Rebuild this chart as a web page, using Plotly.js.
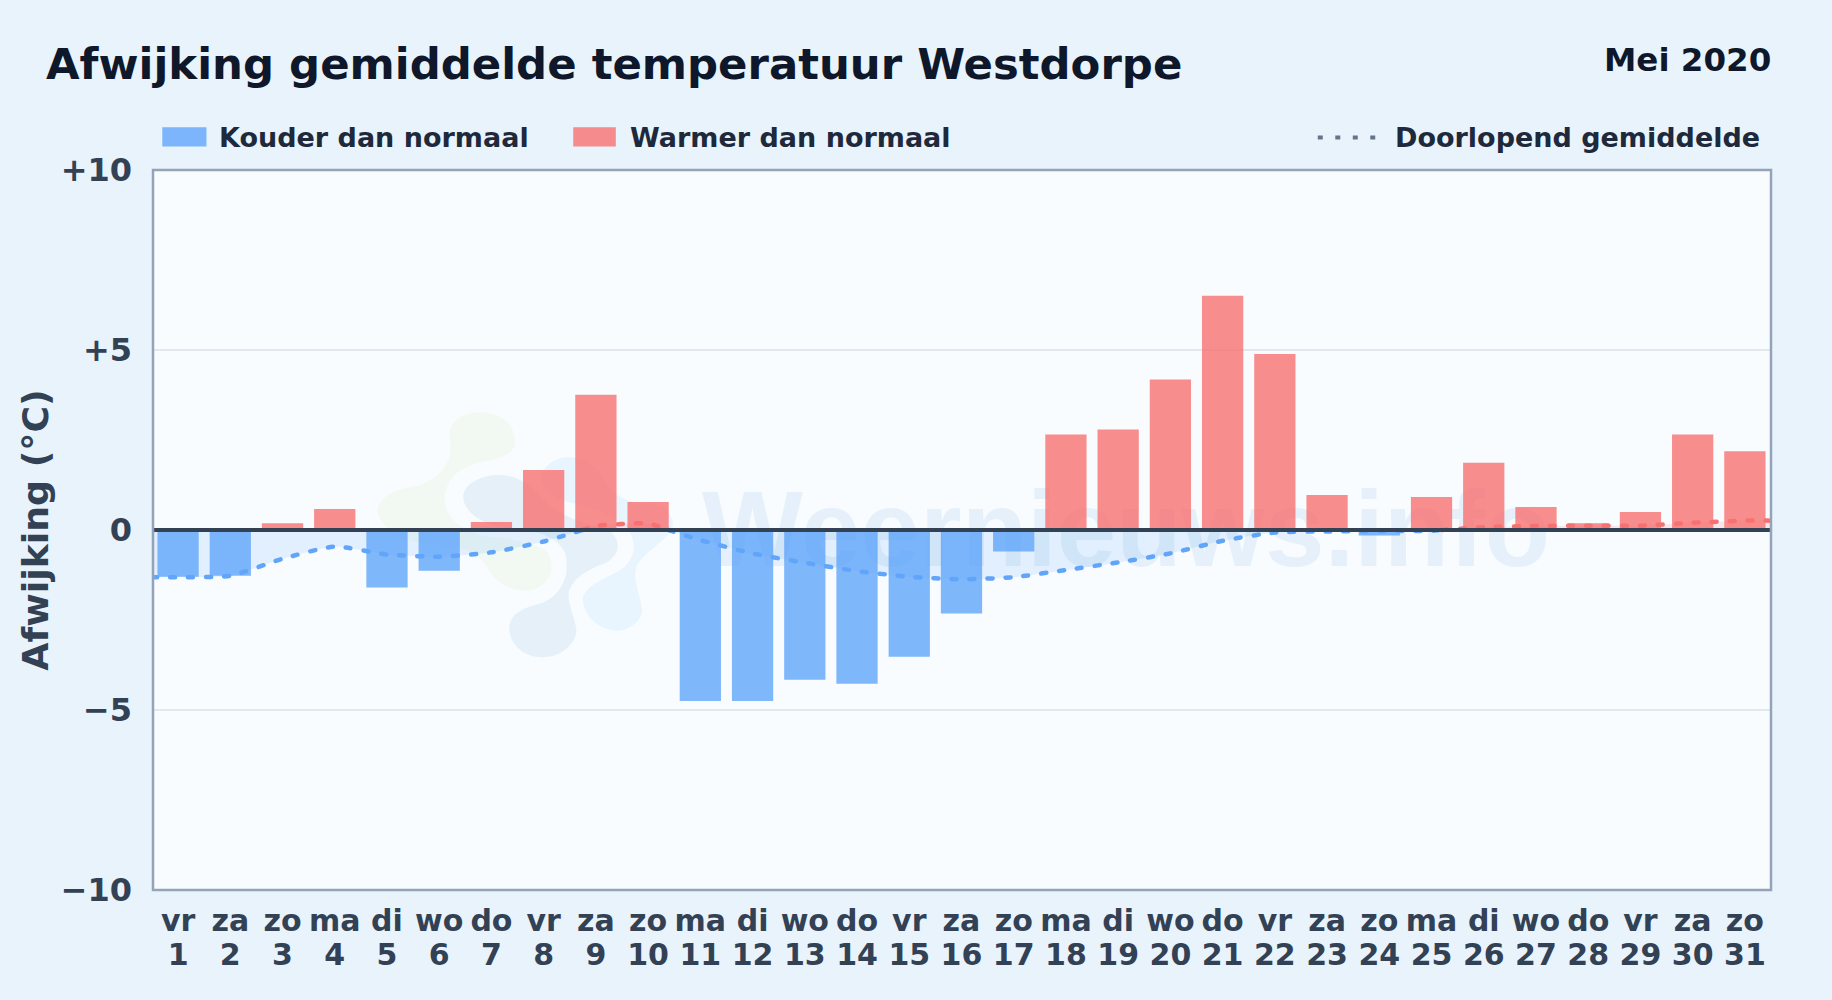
<!DOCTYPE html>
<html lang="nl">
<head>
<meta charset="utf-8">
<title>Afwijking gemiddelde temperatuur Westdorpe</title>
<script src="https://cdn.plot.ly/plotly-3.0.1.min.js"></script>
<style>html,body{margin:0;padding:0;background:#e8f3fc}#chart{width:1832px;height:1000px}
.scatterlayer .js-line{stroke-linecap:round !important}</style>
</head>
<body>
<div id="chart"></div>
<script>
const dayNames = ["vr","za","zo","ma","di","wo","do","vr","za","zo","ma","di","wo","do","vr","za","zo","ma","di","wo","do","vr","za","zo","ma","di","wo","do","vr","za","zo"];
const dayNumbers = [1,2,3,4,5,6,7,8,9,10,11,12,13,14,15,16,17,18,19,20,21,22,23,24,25,26,27,28,29,30,31];
const deviation = [-1.3,-1.27,0.19,0.58,-1.6,-1.13,0.22,1.67,3.76,0.78,-4.75,-4.75,-4.16,-4.27,-3.52,-2.32,-0.6,2.65,2.79,4.18,6.51,4.89,0.97,-0.15,0.92,1.87,0.64,0.19,0.5,2.65,2.19];
const meanDays = [0.5,1,2,3,4,5,6,7,8,9,10,11,12,13,14,15,16,17,18,19,20,21,22,23,24,25,26,27,28,29,30,31,31.5];
const runningMean = [-1.31,-1.31,-1.27,-0.8,-0.46,-0.68,-0.74,-0.62,-0.32,0.11,0.18,-0.28,-0.65,-0.91,-1.14,-1.3,-1.37,-1.31,-1.11,-0.9,-0.65,-0.3,-0.07,-0.04,-0.03,-0.02,0.08,0.11,0.12,0.12,0.2,0.26,0.26];
const yTickValues = [-10,-5,0,5,10];
const yTickLabels = ["\u221210","\u22125","0","+5","+10"];
const titleText = "Afwijking gemiddelde temperatuur Westdorpe";
const periodText = "Mei 2020";
const legendCold = "Kouder dan normaal";
const legendWarm = "Warmer dan normaal";
const legendMean = "Doorlopend gemiddelde";
const watermarkText = "Weernieuws.info";

const W = 1832, H = 1000;
const L = 152.5, R = 1771.5, T = 169.5, B = 890.5;
const FONT = '"DejaVu Sans", sans-serif';
const px = v => (v - L) / (R - L);
const py = v => (B - v) / (B - T);

// split the running mean where it crosses zero
const lx = [], ly = [];
meanDays.forEach((d, i) => {
  if (i > 0 && runningMean[i-1] * runningMean[i] < 0) {
    const a = runningMean[i-1], b = runningMean[i], p = meanDays[i-1];
    lx.push(p + (d - p) * (-a) / (b - a)); ly.push(0);
  }
  lx.push(d); ly.push(runningMean[i]);
});
const blueY = ly.map(v => v <= 0 ? v : null);
const redY = ly.map(v => v >= 0 ? v : null);

const cold = dayNumbers.map(d => deviation[d-1] < 0 ? deviation[d-1] : null);
const warm = dayNumbers.map(d => deviation[d-1] >= 0 ? deviation[d-1] : null);

const traces = [
  {type:"bar", name:legendCold, x:dayNumbers, y:cold, width:0.79, marker:{color:"rgba(96,165,250,0.8)"}, hoverinfo:"x+y"},
  {type:"bar", name:legendWarm, x:dayNumbers, y:warm, width:0.79, marker:{color:"rgba(248,113,113,0.8)"}, hoverinfo:"x+y"},
  {type:"scatter", mode:"lines", name:legendMean, x:lx, y:blueY, fill:"tozeroy", fillcolor:"rgba(96,165,250,0.15)",
   line:{color:"#60a5fa", width:4.5, dash:"5px,13px", shape:"spline", smoothing:0.6}},
  {type:"scatter", mode:"lines", name:legendMean+" (boven normaal)", x:lx, y:redY, fill:"tozeroy", fillcolor:"rgba(248,113,113,0.15)",
   line:{color:"#f87171", width:4.5, dash:"5px,13px", shape:"spline", smoothing:0.6}}
];

function blob(segs){ // path given in crop pixels, converted to paper fractions
  return segs.replace(/(-?[\d.]+),(-?[\d.]+)/g, (m,a,b) => {
    const X = 520 + (360 + a/3 - 520) * 1.04, Y = 535 + (390 + b/3 - 535) * 1.04;
    return px(X).toFixed(5) + "," + py(Y).toFixed(5);
  });
}
const blobGreen = "M 265,140 C 270,90 320,70 370,70 C 430,72 475,110 475,165 C 475,205 440,218 400,228 C 340,238 285,255 272,320 C 268,375 310,410 380,430 C 420,430 530,450 560,470 C 590,510 590,560 540,595 C 490,620 420,600 385,550 C 360,500 330,480 250,475 C 150,470 70,430 58,370 C 55,320 110,295 180,283 C 240,265 275,220 268,170 Z";
const blobGrey = "M 305,320 C 310,275 370,250 430,252 C 490,255 530,300 570,340 C 620,385 700,395 750,420 C 780,450 780,490 740,520 C 700,540 650,550 630,600 C 625,640 655,680 652,720 C 640,770 590,800 540,798 C 480,795 437,755 438,700 C 442,650 490,635 540,622 C 590,600 615,550 600,490 C 580,450 530,430 450,425 C 380,420 305,385 305,320 Z";
const blobBlue = "M 530,260 C 540,225 580,200 620,200 C 670,200 710,230 730,270 C 750,310 790,335 860,335 C 910,340 935,380 930,415 C 910,460 860,480 830,520 C 805,560 845,620 842,660 C 830,700 790,722 755,722 C 700,715 655,680 650,620 C 655,580 700,560 760,530 C 800,505 810,460 780,420 C 740,385 680,365 640,355 C 590,345 530,320 530,260 Z";

function blobShape(p, c){ return {type:"path", xref:"paper", yref:"paper", path:blob(p), fillcolor:c, line:{color:"#f8fcff", width:7}, layer:"below"}; }

const shapes = [
  blobShape(blobGreen, "#f2f9f2"),
  blobShape(blobGrey, "#e6f0f8"),
  blobShape(blobBlue, "#e8f4fe"),
  {type:"rect", xref:"paper", yref:"paper", x0:0, x1:1, y0:0, y1:1, line:{color:"#94a3b8", width:2.5}, layer:"above"},
  {type:"rect", xref:"paper", yref:"paper", x0:px(161.8), x1:px(206), y0:py(146), y1:py(126.7), fillcolor:"rgba(96,165,250,0.8)", line:{width:0}},
  {type:"rect", xref:"paper", yref:"paper", x0:px(573), x1:px(615.6), y0:py(146), y1:py(126.7), fillcolor:"rgba(248,113,113,0.8)", line:{width:0}},
  {type:"line", xref:"paper", yref:"paper", x0:px(1318), x1:px(1375.5), y0:py(137), y1:py(137), line:{color:"#64748b", width:4, dash:"5px,12.5px"}}
];

function note(text, x, y, size, color, anchor){
  return {text, xref:"paper", yref:"paper", x:px(x), y:py(y), xanchor:anchor||"left", yanchor:"middle", showarrow:false,
          font:{family:FONT, size, color, weight:700}, borderpad:0, borderwidth:0};
}
const annotations = [
  note(periodText, 1771, 59, 32.5, "#0f172a", "right"),
  note(legendCold, 219, 136.5, 27, "#1e293b"),
  note(legendWarm, 630, 136.5, 27, "#1e293b"),
  note(legendMean, 1395, 136.5, 27, "#1e293b"),
  {text:watermarkText, xref:"paper", yref:"paper", x:px(700), y:py(529), xanchor:"left", yanchor:"middle", showarrow:false,
   font:{family:'"Liberation Sans", sans-serif', size:107, color:"rgba(140,185,225,0.17)", weight:700}}
];

const layout = {
  width:W, height:H,
  paper_bgcolor:"#e8f3fc", plot_bgcolor:"#f8fcff",
  margin:{l:L, r:W-R, t:T, b:H-B, pad:0},
  showlegend:false,
  barmode:"overlay",
  font:{family:FONT, color:"#334155"},
  title:{text:titleText, x:46/W, xanchor:"left", y:1-64/H, yanchor:"middle", font:{family:FONT, size:43.4, color:"#0f172a", weight:700}},
  xaxis:{type:"linear", range:[0.52,31.5], tickmode:"array", tickvals:dayNumbers,
         ticktext:dayNumbers.map((d,i)=>dayNames[i]+"<br>"+d), tickangle:0, ticks:"", showgrid:false, zeroline:false, showline:false,
         tickfont:{family:FONT, size:30, color:"#334155", weight:700}, ticklabelstandoff:10},
  yaxis:{range:[-10,10], tickmode:"array", tickvals:yTickValues, ticktext:yTickLabels, ticks:"", showline:false,
         gridcolor:"#e2e8f0", gridwidth:1.5, zeroline:true, zerolinecolor:"#334155", zerolinewidth:4, zerolinelayer:"above traces",
         tickfont:{family:FONT, size:32, color:"#334155", weight:700}, ticklabelstandoff:20,
         title:{text:"Afwijking (\u00b0C)", standoff:0, font:{family:FONT, size:36.3, color:"#334155", weight:700}}},
  shapes, annotations
};

Plotly.newPlot("chart", traces, layout, {displayModeBar:false, responsive:false}).then(gd => {
  // tighter two-line day labels
  gd.querySelectorAll(".xtick text tspan.line").forEach(t => {
    if (parseFloat(t.getAttribute("dy")) > 0) t.setAttribute("dy","33.7px");
  });
  // the watermark sits underneath the bars
  const below = gd.querySelector(".layer-below .shapelayer");
  const anns = gd.querySelectorAll(".annotation");
  if (below && anns.length) below.appendChild(anns[anns.length-1]);
});
</script>
</body>
</html>
